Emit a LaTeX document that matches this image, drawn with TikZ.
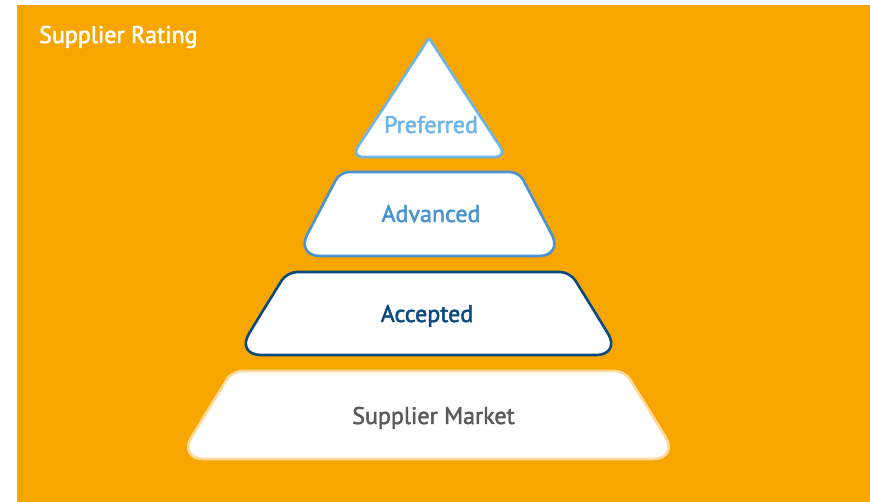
\documentclass[tikz,border=0pt]{standalone}
\usepackage{fontspec}
\setmainfont{PT Sans}
\newfontfamily\lblfont{PT Sans}[FakeBold=2]
\definecolor{bgorange}{HTML}{F7A600}
\definecolor{prefblue}{HTML}{6DB5E5}
\definecolor{advblue}{HTML}{4A93D2}
\definecolor{accblue}{HTML}{0B4A7F}
\definecolor{mktcream}{HTML}{FDD99B}
\definecolor{mktgray}{HTML}{5A5A5A}
\tikzset{
  tier/.style={fill=white, line width=2.6pt, line join=round},
  lbl/.style={anchor=base, inner sep=0pt, font=\lblfont\fontsize{24}{28}\selectfont},
}
\begin{document}
\begin{tikzpicture}[x=1pt,y=-1pt]
\useasboundingbox (0,0) rectangle (870,502);
\fill[white] (0,0) rectangle (870,502);
\fill[bgorange] (17,5) rectangle (870,502);
% title
\node[lbl, anchor=base west, text=white] (title) at (39,43) {Supplier Rating};
% Preferred triangle
\draw[tier, draw=prefblue] (429,157) [rounded corners=12pt] -- (507,157) -- (468,98) [rounded corners=2pt] -- (429,38) -- (390,98) [rounded corners=12pt] -- (351,157) -- cycle;
\node[lbl, text=prefblue] (pref) at (431,133) {Preferred};
% Advanced
\draw[tier, draw=advblue] (429.5,256) [rounded corners=24pt] -- (563,256) -- (541,214) [rounded corners=9pt] -- (519,172) -- (340,172) -- (318,214) [rounded corners=24pt] -- (296,256) -- cycle;
\node[lbl, text=advblue] (adv) at (431,222) {Advanced};
% Accepted
\draw[tier, draw=accblue] (428.5,355) [rounded corners=25pt] -- (621,355) -- (595.5,313) [rounded corners=10pt] -- (570,272) -- (287,272) -- (261.5,313) [rounded corners=25pt] -- (236,355) -- cycle;
\node[lbl, text=accblue] (acc) at (427,322) {Accepted};
% Supplier Market
\draw[tier, draw=mktcream] (428.5,459) [rounded corners=26pt] -- (679,459) -- (652,415) [rounded corners=10pt] -- (625,371) -- (232,371) -- (205,415) [rounded corners=26pt] -- (178,459) -- cycle;
\node[lbl, text=mktgray] (mkt) at (433.5,424) {Supplier Market};
\end{tikzpicture}
\end{document}
